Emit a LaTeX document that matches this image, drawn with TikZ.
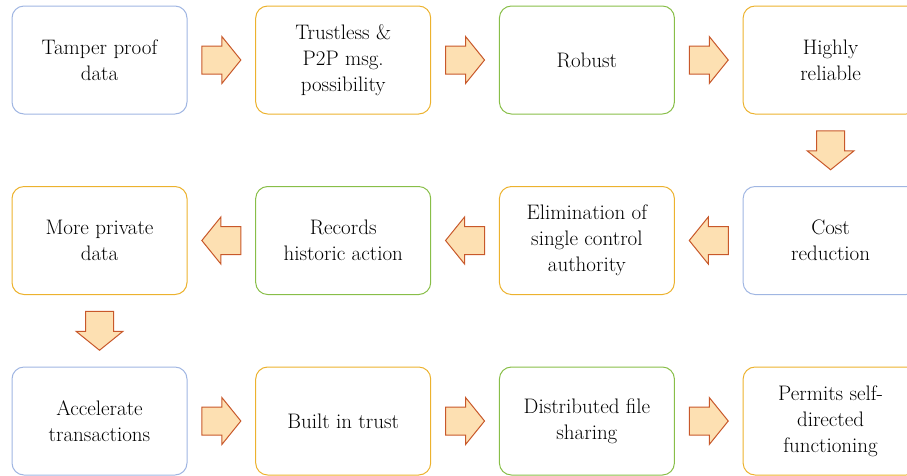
\documentclass[tikz,border=0pt]{standalone}
\usepackage{fontspec}
\usetikzlibrary{calc}
\definecolor{boxblue}{RGB}{160,182,226}
\definecolor{boxgold}{RGB}{236,178,46}
\definecolor{boxgreen}{RGB}{136,190,72}
\definecolor{arrowfill}{RGB}{253,224,178}
\definecolor{arrowedge}{RGB}{200,88,42}
\begin{document}
\begin{tikzpicture}[x=1pt,y=-1pt,
	box/.style={draw,rounded corners=12pt,line width=1pt,minimum width=175pt,
		minimum height=108pt,align=center,text=black,
		font=\fontsize{21}{26}\selectfont},
	blockarrow/.pic={
		\draw[fill=arrowfill,draw=arrowedge,line width=1pt,line join=miter]
			(-19.5,-14) -- (0.5,-14) -- (0.5,-23.5) -- (19.5,0)
			-- (0.5,23.5) -- (0.5,14) -- (-19.5,14) -- cycle;
	}]
\def\dx{243.7}
\def\dy{180.5}
\useasboundingbox (0,0) rectangle (907,475);
\clip (0,0) rectangle (907,475);
% first row
\node[box,draw=boxblue]  (tamper)    at (99.5,60)           {Tamper proof\\data};
\node[box,draw=boxgold]  (trustless) at ({99.5+\dx},60)     {Trustless \&\\P2P msg.\\possibility};
\node[box,draw=boxgreen] (robust)    at ({99.5+2*\dx},60)   {Robust};
\node[box,draw=boxgold]  (reliable)  at ({99.5+3*\dx},60)   {Highly\\reliable};
% second row
\node[box,draw=boxblue]  (cost)      at ({99.5+3*\dx},{60+\dy}) {Cost\\reduction};
\node[box,draw=boxgold]  (authority) at ({99.5+2*\dx},{60+\dy}) {Elimination of\\single control\\authority};
\node[box,draw=boxgreen] (records)   at ({99.5+\dx},{60+\dy})   {Records\\historic action};
\node[box,draw=boxgold]  (private)   at (99.5,{60+\dy})         {More private\\data};
% third row
\node[box,draw=boxblue]  (accel)     at (99.5,{60+2*\dy})         {Accelerate\\transactions};
\node[box,draw=boxgold]  (builtin)   at ({99.5+\dx},{60+2*\dy})   {Built in trust};
\node[box,draw=boxgreen] (sharing)   at ({99.5+2*\dx},{60+2*\dy}) {Distributed file\\sharing};
\node[box,draw=boxgold]  (selfdir)   at ({99.5+3*\dx},{60+2*\dy}) {Permits self-\\directed\\functioning};
% arrows
\foreach \a/\b in {tamper/trustless,trustless/robust,robust/reliable,
		accel/builtin,builtin/sharing,sharing/selfdir}{
	\pic at ($(\a)!0.5!(\b)$) {blockarrow};
}
\foreach \a/\b in {cost/authority,authority/records,records/private}{
	\pic[rotate=180] at ($(\a)!0.5!(\b)$) {blockarrow};
}
\pic[rotate=-90] at ($(reliable)!0.5!(cost)$) {blockarrow};
\pic[rotate=-90] at ($(private)!0.5!(accel)$) {blockarrow};
\end{tikzpicture}
\end{document}
